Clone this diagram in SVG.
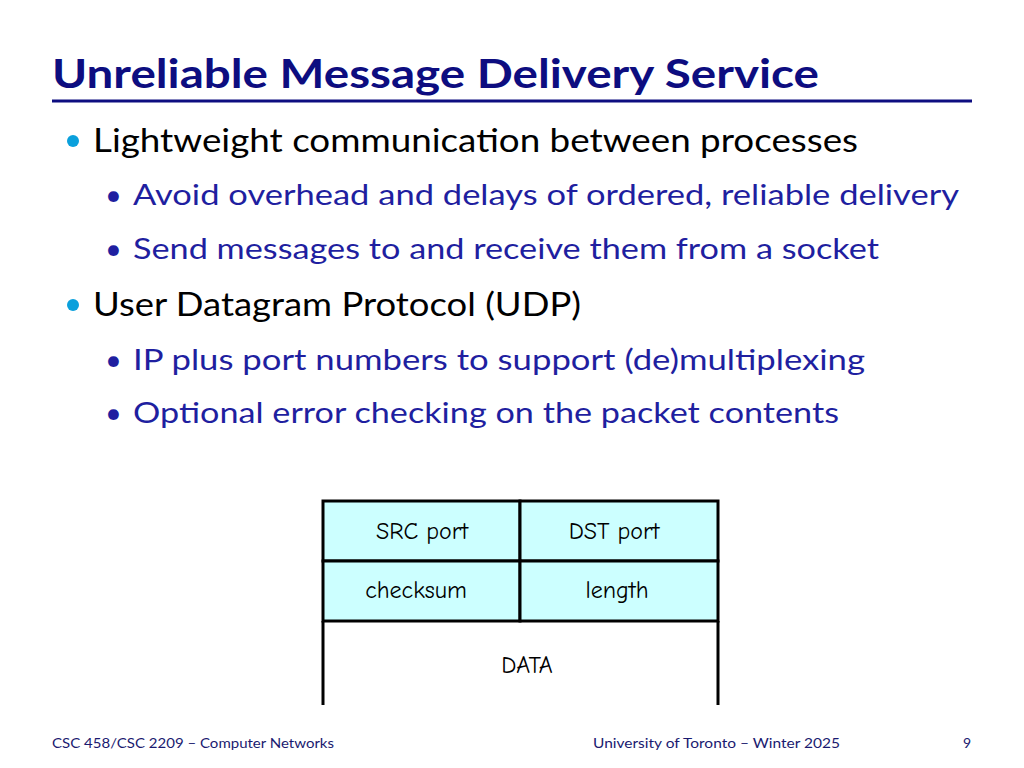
<svg xmlns="http://www.w3.org/2000/svg" width="1024" height="768" viewBox="0 0 1024 768">
<style>
text{font-family:Lato,"Open Sans","Liberation Sans",sans-serif}
.t{font-size:40px;font-weight:bold;fill:#0d0d80}
.b1{font-size:32px;fill:#000}
.b2{font-size:29px;fill:#1f1fa0}
.dot{fill:#0aa0dc}
.cell{fill:#ccffff;stroke:#000;stroke-width:3}
.c{font-family:"Comic Neue","DejaVu Sans",sans-serif;font-size:24px;fill:#000;text-anchor:middle}
.f{font-size:14px;fill:#1a1a70}
</style>
<rect width="1024" height="768" fill="#fff"/>
<text class="t" x="52" y="88" textLength="767" lengthAdjust="spacingAndGlyphs">Unreliable Message Delivery Service</text>
<line x1="52" y1="101" x2="972" y2="101" stroke="#0d0d80" stroke-width="3"/>
<circle class="dot" cx="73" cy="141" r="6"/>
<text class="b1" x="93" y="152" textLength="765" lengthAdjust="spacingAndGlyphs">Lightweight communication between processes</text>
<text class="b2" x="105" y="205">•</text>
<text class="b2" x="133" y="205" textLength="826" lengthAdjust="spacingAndGlyphs">Avoid overhead and delays of ordered, reliable delivery</text>
<text class="b2" x="105" y="259">•</text>
<text class="b2" x="133" y="259" textLength="746" lengthAdjust="spacingAndGlyphs">Send messages to and receive them from a socket</text>
<circle class="dot" cx="73" cy="305" r="6"/>
<text class="b1" x="93" y="316" textLength="488" lengthAdjust="spacingAndGlyphs">User Datagram Protocol (UDP)</text>
<text class="b2" x="105" y="370">•</text>
<text class="b2" x="133" y="370" textLength="732" lengthAdjust="spacingAndGlyphs">IP plus port numbers to support (de)multiplexing</text>
<text class="b2" x="105" y="423">•</text>
<text class="b2" x="133" y="423" textLength="706" lengthAdjust="spacingAndGlyphs">Optional error checking on the packet contents</text>
<g id="table">
<rect class="cell" x="323" y="501" width="197" height="60"/>
<rect class="cell" x="520" y="501" width="198" height="60"/>
<rect class="cell" x="323" y="561" width="197" height="60"/>
<rect class="cell" x="520" y="561" width="198" height="60"/>
<path d="M323 621V705M718 621V705" stroke="#000" stroke-width="3" fill="none"/>
<text class="c" x="422" y="539">SRC port</text>
<text class="c" x="614" y="539">DST port</text>
<text class="c" x="416" y="598">checksum</text>
<text class="c" x="617" y="598">length</text>
<text class="c" x="527" y="673">DATA</text>
</g>
<text class="f" x="52" y="748" textLength="282" lengthAdjust="spacingAndGlyphs">CSC 458/CSC 2209 – Computer Networks</text>
<text class="f" x="593" y="748" textLength="247" lengthAdjust="spacingAndGlyphs">University of Toronto – Winter 2025</text>
<text class="f" x="963" y="748">9</text>
</svg>
